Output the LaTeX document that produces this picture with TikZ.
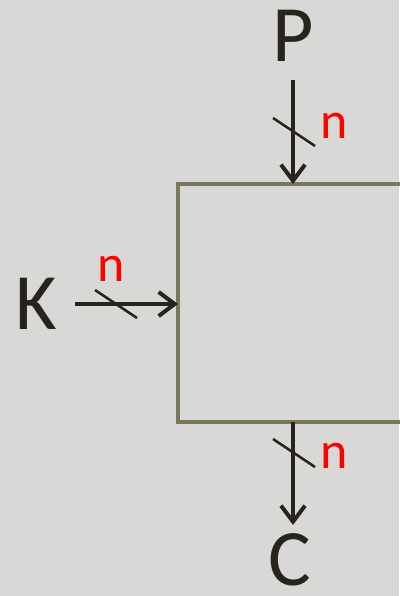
\documentclass[tikz,border=0pt]{standalone}
\usepackage{fontspec}
\setmainfont{Carlito}
\usetikzlibrary{arrows.meta,positioning}

\definecolor{bgGray}{RGB}{216,216,214}
\definecolor{boxOlive}{RGB}{122,119,90}
\definecolor{inkDark}{RGB}{40,36,28}

\begin{document}
\begin{tikzpicture}[
    x=1pt, y=-1pt,
    >={Straight Barb[length=16pt,width=24pt]},
    % Styles
    letter/.style={font=\fontsize{80}{80}\selectfont, text=inkDark, inner sep=0pt},
    bits/.style={font=\fontsize{52}{52}\selectfont, text=red, inner sep=0pt},
    arrow/.style={->, line width=4pt, draw=inkDark},
    slash/.style={line width=2.5pt, draw=inkDark},
    block/.style={rectangle, draw=boxOlive, line width=4pt, outer sep=0pt, inner sep=0pt}
]

% --- Background ---
\fill[bgGray] (0,0) rectangle (399,596);
\useasboundingbox (0,0) rectangle (399,596);

% --- Block (runs off the right edge) ---
\node[block, anchor=north west, minimum width=262pt, minimum height=238pt] (blk) at (178,184) {};

% --- Inputs and output ---
\node[letter] (P) at (293,36) {P};
\node[letter] (K) at (36,304) {K};
\node[letter] (C) at (290,560) {C};

% --- Connections ---
\coordinate (pIn) at (blk.north west -| P);
\coordinate (kIn) at (blk.north west |- K);
\coordinate (cOut) at (blk.south west -| P);
\coordinate (cEnd) at (293,525);

\draw[arrow, shorten <=18pt] (P) -- (pIn);
\draw[arrow, shorten <=18pt] (K) -- (kIn);
\draw[arrow] (cOut) -- (cEnd);

% --- Width marks ---
\coordinate (pMid) at (294,132);
\coordinate (kMid) at (116,304);
\coordinate (cMid) at (294,453);

\draw[slash] (pMid) ++(-21,-14) -- ++(42,28);
\draw[slash] (kMid) ++(-21,-14) -- ++(42,28);
\draw[slash] (cMid) ++(-21,-14) -- ++(42,28);

\node[bits] (pN) at (334,126) {n};
\node[bits] (kN) at (111,269) {n};
\node[bits] (cN) at (334,456) {n};

\end{tikzpicture}
\end{document}
